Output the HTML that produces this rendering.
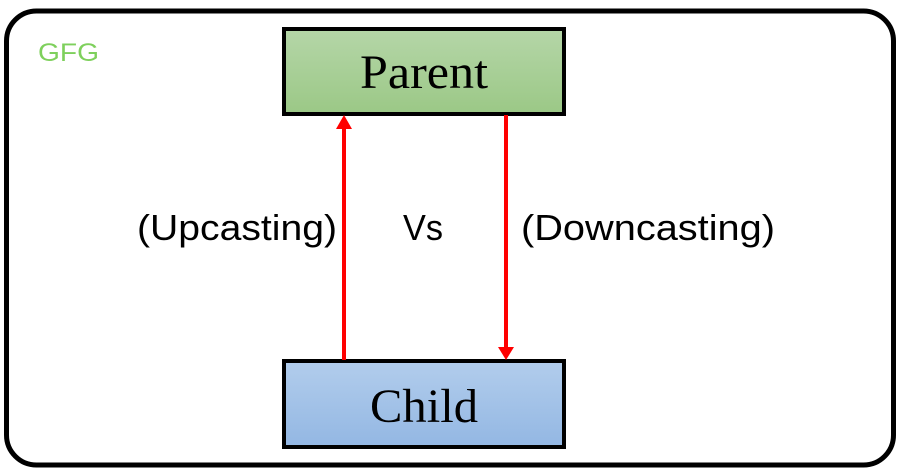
<!DOCTYPE html>
<html><head><style>html,body{margin:0;padding:0;background:#fff;}</style></head>
<body>
<svg width="901" height="471" xmlns="http://www.w3.org/2000/svg">
<defs>
<linearGradient id="g" x1="0" y1="0" x2="0" y2="1"><stop offset="0" stop-color="#b5d6a8"/><stop offset="1" stop-color="#9bc886"/></linearGradient>
<linearGradient id="b" x1="0" y1="0" x2="0" y2="1"><stop offset="0" stop-color="#b2cdec"/><stop offset="1" stop-color="#93b7e3"/></linearGradient>
</defs>
<rect x="6.5" y="11" width="887" height="454" rx="30" fill="#fff" stroke="#000" stroke-width="5"/>
<text x="38" y="61" font-family="Liberation Sans, sans-serif" font-size="25" fill="#7ed05c" textLength="61" lengthAdjust="spacingAndGlyphs">GFG</text>
<rect x="284" y="29" width="280" height="85" fill="url(#g)" stroke="#000" stroke-width="4"/>
<text x="360" y="88" font-family="Liberation Serif, serif" font-size="48" fill="#000" textLength="128" lengthAdjust="spacingAndGlyphs">Parent</text>
<rect x="284" y="361" width="280" height="86" fill="url(#b)" stroke="#000" stroke-width="4"/>
<text x="370" y="422" font-family="Liberation Serif, serif" font-size="48" fill="#000" textLength="108" lengthAdjust="spacingAndGlyphs">Child</text>
<line x1="344" y1="360" x2="344" y2="128" stroke="#f00" stroke-width="4"/>
<polygon points="336,129 352,129 344,115" fill="#f00"/>
<line x1="506" y1="115" x2="506" y2="348" stroke="#f00" stroke-width="4"/>
<polygon points="498,347 514,347 506,360" fill="#f00"/>
<text x="137" y="240" font-family="Liberation Sans, sans-serif" font-size="36" textLength="200" lengthAdjust="spacingAndGlyphs">(Upcasting)</text>
<text x="403" y="240" font-family="Liberation Sans, sans-serif" font-size="36" textLength="40" lengthAdjust="spacingAndGlyphs">Vs</text>
<text x="521" y="240" font-family="Liberation Sans, sans-serif" font-size="36" textLength="254" lengthAdjust="spacingAndGlyphs">(Downcasting)</text>
</svg>
</body></html>
